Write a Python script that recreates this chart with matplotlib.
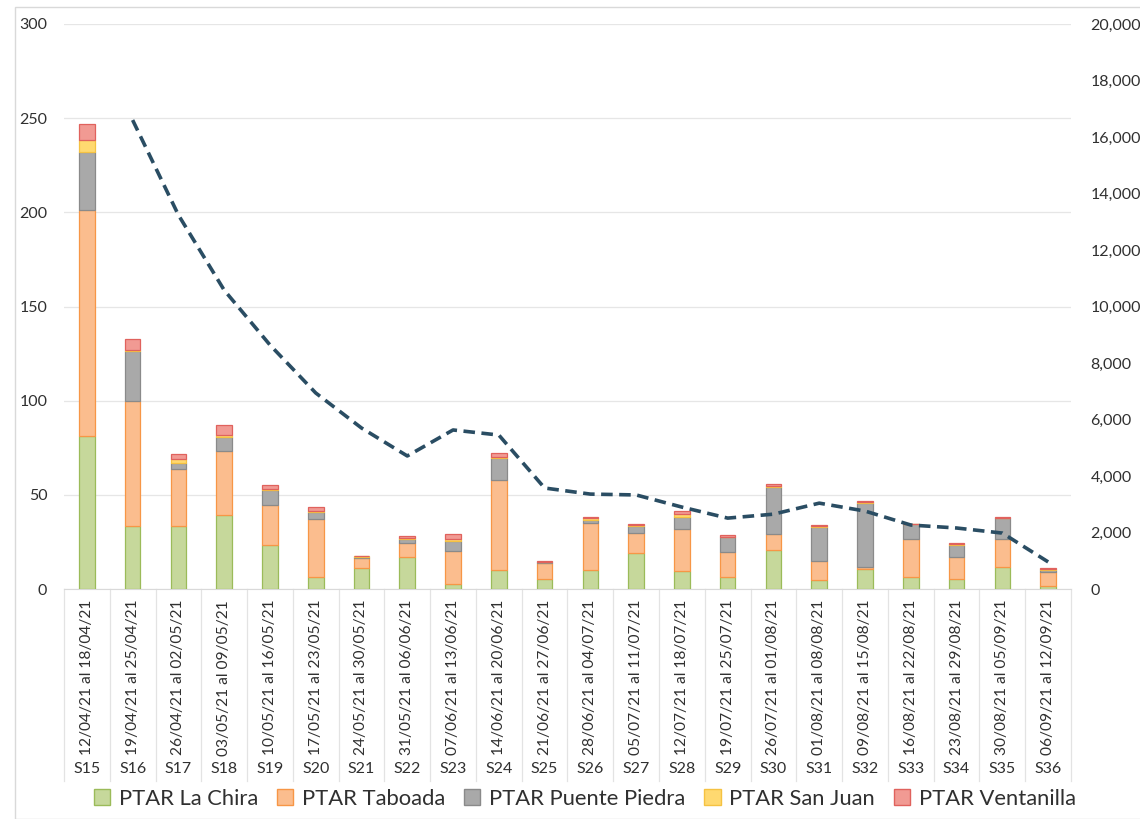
import matplotlib
matplotlib.use("Agg")
import matplotlib.pyplot as plt
from matplotlib.patches import Patch
from matplotlib.ticker import FuncFormatter, MultipleLocator
import numpy as np

plt.rcParams['font.family'] = ['Lato', 'DejaVu Sans']

weeks = ["S15", "S16", "S17", "S18", "S19", "S20", "S21", "S22", "S23", "S24", "S25",
         "S26", "S27", "S28", "S29", "S30", "S31", "S32", "S33", "S34", "S35", "S36"]
periods = ["12/04/21 al 18/04/21", "19/04/21 al 25/04/21", "26/04/21 al 02/05/21",
           "03/05/21 al 09/05/21", "10/05/21 al 16/05/21", "17/05/21 al 23/05/21",
           "24/05/21 al 30/05/21", "31/05/21 al 06/06/21", "07/06/21 al 13/06/21",
           "14/06/21 al 20/06/21", "21/06/21 al 27/06/21", "28/06/21 al 04/07/21",
           "05/07/21 al 11/07/21", "12/07/21 al 18/07/21", "19/07/21 al 25/07/21",
           "26/07/21 al 01/08/21", "01/08/21 al 08/08/21", "09/08/21 al 15/08/21",
           "16/08/21 al 22/08/21", "23/08/21 al 29/08/21", "30/08/21 al 05/09/21",
           "06/09/21 al 12/09/21"]

la_chira = [81.0, 33.6, 33.6, 39.5, 23.4, 6.5, 11.0, 17.2, 2.7, 10.1, 5.3,
            10.1, 19.0, 9.7, 6.5, 20.7, 4.8, 10.4, 6.5, 5.3, 11.8, 1.8]
taboada = [120.0, 66.2, 29.9, 34.0, 21.2, 30.5, 5.3, 7.1, 17.5, 47.8, 8.6,
           24.8, 10.6, 22.2, 13.0, 8.5, 10.1, 1.4, 20.0, 11.5, 14.6, 7.1]
puente_piedra = [31.0, 26.7, 3.6, 7.4, 8.0, 4.0, 0.9, 2.1, 5.5, 11.5, 0.3,
                 1.7, 4.0, 6.5, 8.0, 25.1, 18.2, 34.0, 7.8, 6.6, 11.1, 1.2]
san_juan = [6.5, 0.5, 1.8, 1.0, 0.7, 0.6, 0.2, 0.5, 0.7, 0.5, 0.2,
            1.3, 0.3, 1.4, 0.3, 0.4, 0.3, 0.6, 0.2, 0.7, 0.3, 0.5]
ventanilla = [8.5, 5.6, 3.0, 5.4, 1.9, 2.1, 0.3, 1.4, 2.6, 2.5, 0.5,
              0.2, 0.6, 1.8, 1.0, 0.9, 0.4, 0.3, 0.1, 0.5, 0.4, 0.7]
# weekly cases (right axis); no value for the first week
cases = [np.nan, 16600, 13240, 10580, 8640, 6940, 5700, 4710, 5630, 5450, 3575,
         3360, 3330, 2900, 2510, 2650, 3040, 2760, 2265, 2160, 1980, 960]

series = [
    ("PTAR La Chira", la_chira, "#c6d89b", "#9bbb59"),
    ("PTAR Taboada", taboada, "#fbbd8e", "#f79646"),
    ("PTAR Puente Piedra", puente_piedra, "#a9a9a9", "#8a8a8a"),
    ("PTAR San Juan", san_juan, "#ffd970", "#f5c242"),
    ("PTAR Ventanilla", ventanilla, "#f19a93", "#e0625d"),
]

fig = plt.figure(figsize=(11.4, 8.19), dpi=100)
ax = fig.add_axes([0.0561, 0.2808, 0.8834, 0.6899])
ax2 = ax.twinx()

x = np.arange(len(weeks))
bottom = np.zeros(len(weeks))
for name, vals, fc, ec in series:
    vals = np.array(vals)
    ax.bar(x, vals, width=0.34, bottom=bottom, color=fc, edgecolor=ec,
           linewidth=0.9, zorder=3)
    bottom += vals

ax2.plot(x, cases, color="#2a4d63", linestyle=(0, (3.2, 1.8)), linewidth=2.6, zorder=4)

ax.set_xlim(-0.5, len(weeks) - 0.5)
ax.set_ylim(0, 300)
ax2.set_ylim(0, 20000)
ax.yaxis.set_major_locator(MultipleLocator(50))
ax2.yaxis.set_major_locator(MultipleLocator(2000))
ax2.yaxis.set_major_formatter(FuncFormatter(lambda v, p: f"{int(v):,}"))

ax.grid(axis="y", color="#e6e6e6", linewidth=0.9, zorder=0)
ax.set_axisbelow(True)
for a in (ax, ax2):
    for s in a.spines.values():
        s.set_visible(False)
    a.tick_params(length=0, labelsize=11.5, colors="#303030")
ax.tick_params(axis="y", pad=12)
ax2.tick_params(axis="y", pad=14)
ax.spines["bottom"].set_visible(True)
ax.spines["bottom"].set_color("#d9d9d9")

ax.set_xticks([])
trans = ax.get_xaxis_transform()
for i in range(len(weeks)):
    ax.text(i, -0.019, periods[i], rotation=90, ha="center", va="top",
            fontsize=11.2, color="#303030", transform=trans, clip_on=False)
    ax.text(i, -0.318, weeks[i], ha="center", va="center", fontsize=11.5,
            color="#303030", transform=trans, clip_on=False)
for i in range(len(weeks) + 1):
    ax.plot([i - 0.5, i - 0.5], [0, -0.34], color="#e3e3e3", linewidth=0.9,
            transform=trans, clip_on=False)

handles = [Patch(facecolor=fc, edgecolor=ec, label=name) for name, _, fc, ec in series]
fig.legend(handles=handles, loc="center", bbox_to_anchor=(0.513, 0.025), ncol=5,
           frameon=False, fontsize=15.8, handlelength=0.75, handleheight=0.75,
           handletextpad=0.4, columnspacing=0.85, labelcolor="#303030")

border = plt.Rectangle((0.013, 0.0), 0.99, 0.991, transform=fig.transFigure,
                       fill=False, edgecolor="#d9d9d9", linewidth=1.0)
fig.patches.append(border)

fig.savefig("out.png", dpi=100)
